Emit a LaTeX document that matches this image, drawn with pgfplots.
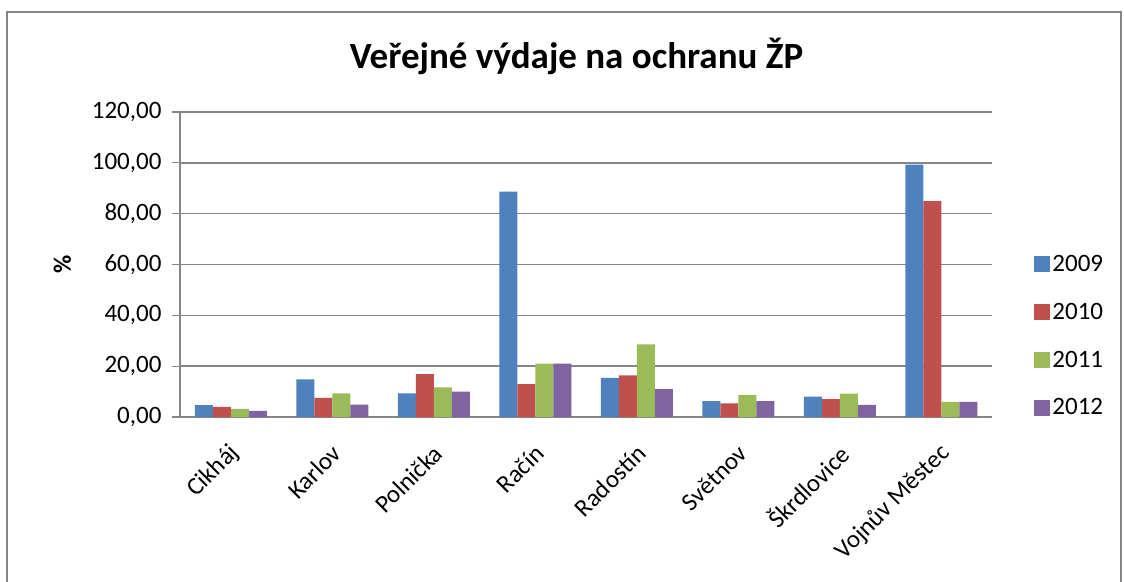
\documentclass[border=0pt]{standalone}
\usepackage{pgfplots}
\pgfplotsset{compat=1.18}
\usepackage{fontspec}
\setmainfont{Carlito}
\definecolor{c09}{HTML}{4F81BD}
\definecolor{c10}{HTML}{C0504D}
\definecolor{c11}{HTML}{9BBB59}
\definecolor{c12}{HTML}{8064A2}
\definecolor{gridc}{HTML}{868686}
\begin{document}
\begin{tikzpicture}[x=1pt,y=1pt]
\useasboundingbox (0,0) rectangle (1124,581);
\draw[gridc, line width=1.3pt] (7,-5) -- (7,569) -- (1121,569) -- (1121,-5);
\node[anchor=base, font=\fontsize{37}{44}\selectfont\bfseries] at (576.5,512) {Veřejné výdaje na ochranu ŽP};
\begin{axis}[
  at={(180pt,164pt)}, anchor=south west,
  scale only axis, width=812pt, height=305pt,
  ybar=0pt, bar width=18pt,
  xmin=-0.5, xmax=7.5, ymin=0, ymax=120,
  xtick={0,...,7},
  xticklabels={Cikháj,Karlov,Polnička,Račín,Radostín,Světnov,Škrdlovice,Vojnův Městec},
  ytick={0,20,...,120},
  axis lines*=left,
  axis line style={gridc, line width=1.3pt, -},
  ymajorgrids, grid style={gridc, line width=1.5pt},
  xtick style={draw=none},
  ytick style={gridc, line width=1.3pt},
  tick align=outside, major tick length=8pt,
  tick label style={font=\fontsize{25}{30}\selectfont},
  yticklabel style={anchor=east, xshift=-7pt},
  xticklabel style={xshift=7pt, yshift=-22pt, rotate=45, anchor=east},
  /pgf/number format/.cd, fixed, fixed zerofill, precision=2, use comma, 1000 sep={}, assume math mode=true,
  /pgfplots/.cd,
  ylabel={\%}, ylabel style={font=\fontsize{25}{30}\selectfont\bfseries, at={(axis description cs:-0.145,0.5)}, anchor=center},
  legend style={draw=none, at={(axis description cs:1.052,0.2656)}, anchor=west,
    font=\fontsize{25}{30}\selectfont, row sep=26pt, inner sep=0pt,
    /tikz/every even column/.append style={column sep=8pt}},
  legend cell align=left,
  legend image code/.code={\fill[#1] (0pt,-8pt) rectangle (16pt,8pt);},
]
\addplot[fill=c09, draw=none] coordinates {(0,4.7) (1,14.8) (2,9.3) (3,88.7) (4,15.4) (5,6.2) (6,8.0) (7,99.3)};
\addplot[fill=c10, draw=none] coordinates {(0,4.0) (1,7.5) (2,16.9) (3,12.9) (4,16.4) (5,5.4) (6,7.0) (7,84.9)};
\addplot[fill=c11, draw=none] coordinates {(0,3.2) (1,9.3) (2,11.7) (3,21.0) (4,28.6) (5,8.6) (6,9.2) (7,6.0)};
\addplot[fill=c12, draw=none] coordinates {(0,2.4) (1,4.9) (2,10.0) (3,21.0) (4,11.0) (5,6.2) (6,4.8) (7,6.0)};
\legend{2009,2010,2011,2012}
\end{axis}
\end{tikzpicture}
\end{document}
